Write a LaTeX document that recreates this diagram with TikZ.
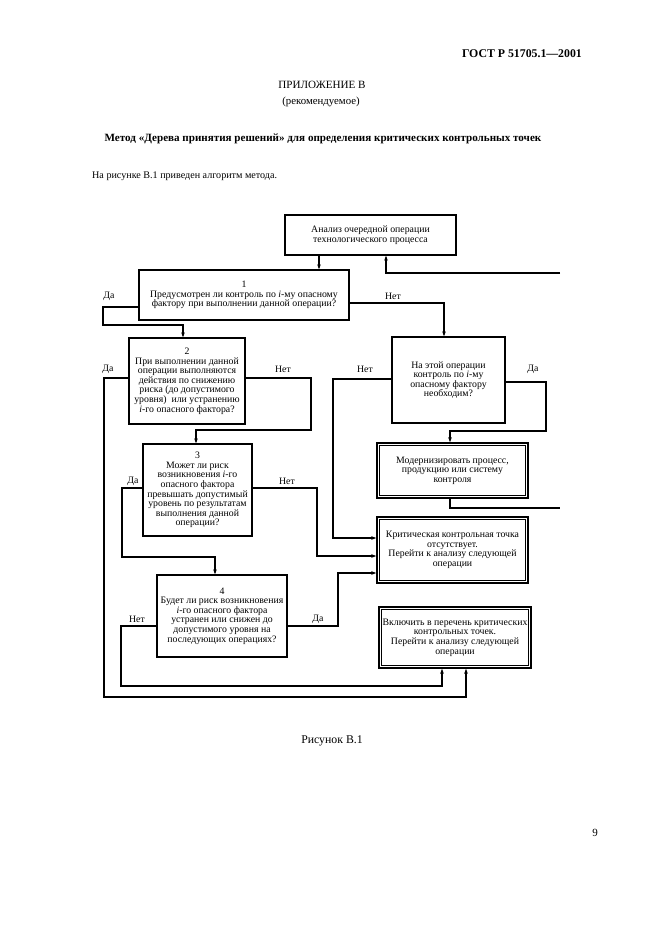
\documentclass[tikz,border=0pt]{standalone}
\usepackage{fontspec}
\setmainfont{Liberation Serif}
\usetikzlibrary{arrows.meta}
\begin{document}
\begin{tikzpicture}[x=1pt,y=-1pt,
  box/.style={draw,line width=1.3pt,inner sep=0pt,align=center,font=\fontsize{9.8}{9.6}\selectfont},
  dbox/.style={box,line width=1.5pt},
  conn/.style={line width=1.1pt},
  arr/.style={conn,-{Stealth[length=5pt,width=3.6pt]}},
  lbl/.style={font=\fontsize{9.8}{9.6}\selectfont,inner sep=0pt},
  txt/.style={inner sep=0pt}]
\useasboundingbox (0,0) rectangle (661,936);
\fill[white] (0,0) rectangle (661,936);

% page texts
\node[txt,anchor=east,font=\bfseries\fontsize{11.8}{13}\selectfont] (hdr) at (582,54) {ГОСТ Р 51705.1—2001};
\node[txt,font=\fontsize{11.1}{12}\selectfont] (app) at (322,85) {ПРИЛОЖЕНИЕ В};
\node[txt,font=\fontsize{10.8}{12}\selectfont] (rec) at (321,102) {(рекомендуемое)};
\node[txt,font=\bfseries\fontsize{11.1}{12}\selectfont] (ttl) at (323,139) {Метод «Дерева принятия решений» для определения критических контрольных точек};
\node[txt,anchor=west,font=\fontsize{10.1}{12}\selectfont] (intro) at (92,176) {На рисунке В.1 приведен алгоритм метода.};
\node[txt,font=\fontsize{11.8}{12}\selectfont] (cap) at (332,741) {Рисунок В.1};
\node[txt,font=\fontsize{11}{12}\selectfont] (pg) at (595,833) {9};

% boxes
\node[box,minimum width=171pt,minimum height=40pt] (A) at (370.5,235) {Анализ очередной операции\\технологического процесса};
\node[box,minimum width=210pt,minimum height=50pt] (B1) at (244,295) {1\\Предусмотрен ли контроль по \textit{i}-му опасному\\фактору при выполнении данной операции?};
\node[box,minimum width=116pt,minimum height=86pt] (B2) at (187,381) {2\\При выполнении данной\\операции выполняются\\действия по снижению\\риска (до допустимого\\уровня) \ или устранению\\\textit{i}-го опасного фактора?};
\node[box,minimum width=109pt,minimum height=92pt] (B3) at (197.5,490) {3\\Может ли риск\\возникновения \textit{i}-го\\опасного фактора\\превышать допустимый\\уровень по результатам\\выполнения данной\\операции?};
\node[box,minimum width=130pt,minimum height=82pt] (B4) at (222,616) {4\\Будет ли риск возникновения\\\textit{i}-го опасного фактора\\устранен или снижен до\\допустимого уровня на\\последующих операциях?};
\node[box,minimum width=113pt,minimum height=86pt] (B5) at (448.5,380) {На этой операции\\контроль по \textit{i}-му\\опасному фактору\\необходим?};
\node[dbox,minimum width=151pt,minimum height=55pt] (B6) at (452.5,470.5) {Модернизировать процесс,\\продукцию или систему\\контроля};
\node[dbox,minimum width=151pt,minimum height=66pt] (B7) at (452.5,550) {Критическая контрольная точка\\отсутствует.\\Перейти к анализу следующей\\операции};
\node[dbox,minimum width=152pt,minimum height=61pt] (B8) at (455,637.5) {Включить в перечень критических\\контрольных точек.\\Перейти к анализу следующей\\операции};
\foreach \b in {B6,B7,B8}
  \draw[line width=0.6pt] ([shift={(3.5pt,3.5pt)}]\b.south west) rectangle ([shift={(-3.5pt,-3.5pt)}]\b.north east);

% free ends at the right edge
\coordinate (r1) at (560,273);
\coordinate (r2) at (560,508);

% connectors
\draw[arr] ([xshift=-51.5pt]A.south) -- ([xshift=-51.5pt]A.south |- B1.north);
\draw[arr] (r1) -| ([xshift=15.5pt]A.south);
\draw[arr] ([yshift=-12pt]B1.west) -| (103,325) -| ([xshift=-4pt]B2.north);
\draw[arr] ([yshift=-8pt]B1.east) -| ([xshift=-4.5pt]B5.north);
\draw[arr] ([yshift=3pt]B2.west) -| (104,697) -| ([xshift=11pt]B8.south);
\draw[arr] ([yshift=3pt]B2.east) -| (311,430) -| ([xshift=-1.5pt]B3.north);
\draw[arr] ([yshift=2pt]B3.west) -| (122,557) -| ([xshift=-7pt]B4.north);
\draw[arr] ([yshift=2pt]B3.east) -| (317,522) |- ([yshift=-6pt]B7.west);
\draw[arr] ([yshift=-10pt]B4.east) -| (338,600) |- ([yshift=-23pt]B7.west);
\draw[arr] ([yshift=-10pt]B4.west) -| (121,686) -| ([xshift=-13pt]B8.south);
\draw[arr] ([yshift=1pt]B5.west) -| (333,450) |- ([yshift=12pt]B7.west);
\draw[arr] ([yshift=-2pt]B5.east) -| (546,431) -| ([xshift=-2.5pt]B6.north);
\draw[conn] ([xshift=-2.5pt]B6.south) |- (r2);

% labels
\node[lbl] (l1) at (109,296) {Да};
\node[lbl] (l2) at (393,296) {Нет};
\node[lbl] (l3) at (108,369) {Да};
\node[lbl] (l4) at (283,369) {Нет};
\node[lbl] (l5) at (365,369) {Нет};
\node[lbl] (l6) at (533,369) {Да};
\node[lbl] (l7) at (133,481) {Да};
\node[lbl] (l8) at (287,481) {Нет};
\node[lbl] (l9) at (137,619) {Нет};
\node[lbl] (l10) at (318,619) {Да};
\end{tikzpicture}
\end{document}
